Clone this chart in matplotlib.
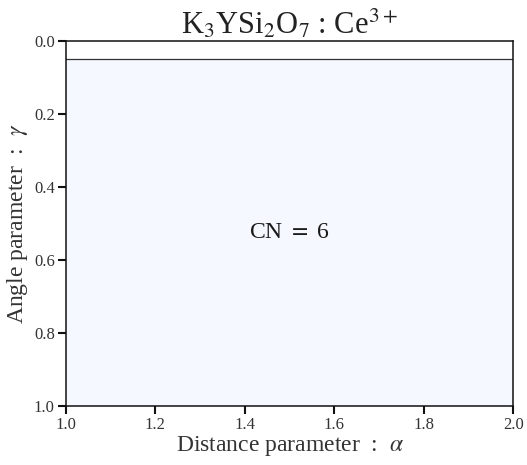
import matplotlib.pyplot as plt
import numpy as np

plt.rcParams['font.family'] = ['Liberation Serif', 'DejaVu Serif']
plt.rcParams['mathtext.fontset'] = 'stix'

# coordination-number regions in (alpha, gamma) space
alpha_range = [1.0, 2.0]
gamma_lower = [0.05, 0.05]
gamma_upper = [1.0, 1.0]
region_label = r'CN $=$ 6'
region_pos = (1.5, 0.525)

xticks = [1.0, 1.2, 1.4, 1.6, 1.8, 2.0]
yticks = [0.0, 0.2, 0.4, 0.6, 0.8, 1.0]

fig, ax = plt.subplots(figsize=(5.27, 4.65), dpi=100)
fig.subplots_adjust(left=0.125, right=0.974, top=0.912, bottom=0.127)

ax.fill_between(alpha_range, gamma_lower, gamma_upper, color='#f5f8fe', linewidth=0)
ax.plot(alpha_range, gamma_lower, color='#333333', linewidth=0.9)
ax.text(region_pos[0], region_pos[1], region_label, ha='center', va='center',
        fontsize=17, color='#1a1a1a')

ax.set_xlim(1.0, 2.0)
ax.set_ylim(1.0, 0.0)
ax.set_xticks(xticks)
ax.set_yticks(yticks)
ax.set_xticklabels([f'{t:.1f}' for t in xticks])
ax.set_yticklabels([f'{t:.1f}' for t in yticks])
ax.tick_params(direction='out', length=6, width=1.5, labelsize=12, colors='#111111',
               labelcolor='#333333', pad=2)
for s in ax.spines.values():
    s.set_linewidth(1.1)
    s.set_color('#111111')

ax.set_xlabel(r'Distance parameter  :  $\alpha$', fontsize=17, color='#333333', labelpad=1)
ax.set_ylabel(r'Angle parameter  :  $\gamma$', fontsize=17, color='#333333', labelpad=3)
ax.set_title(r'K$_3$YSi$_2$O$_7$ : Ce$^{3+}$', fontsize=22, color='#222222', pad=3)

fig.savefig('out.png', dpi=100)
